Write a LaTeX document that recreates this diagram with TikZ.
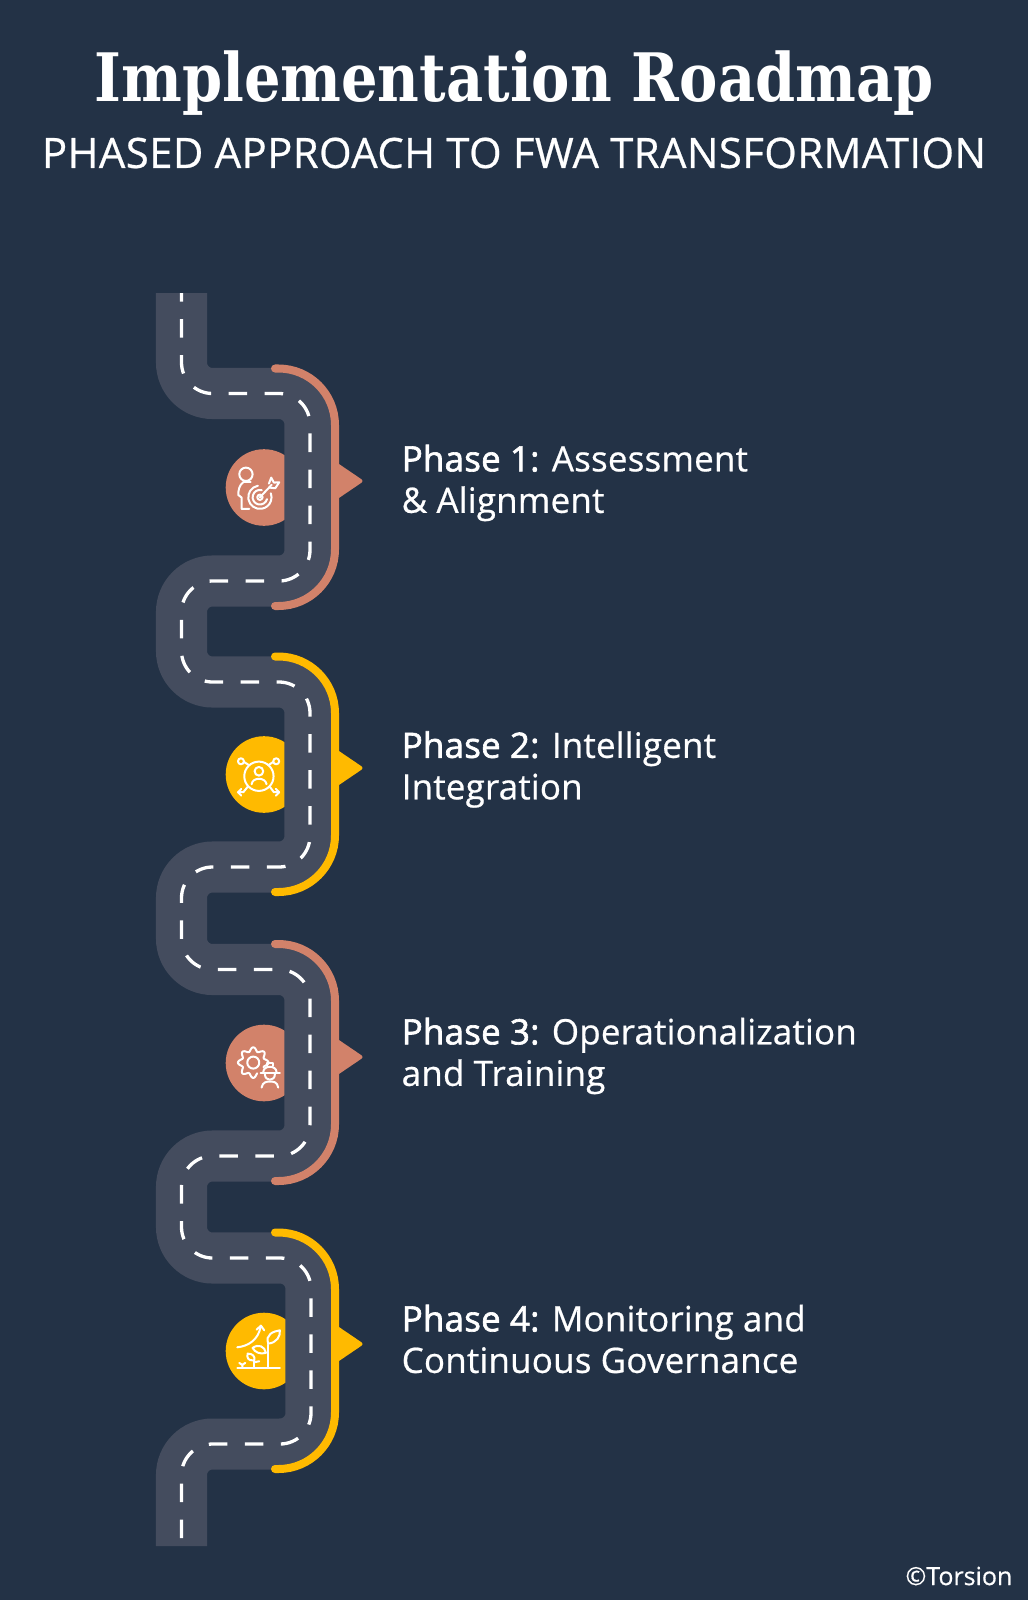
\documentclass[tikz,border=0pt]{standalone}
\usepackage{fontspec}
\setmainfont[FakeBold=0.5]{Open Sans}
\newfontfamily\titlefont[FakeStretch=0.86]{DejaVu Serif Bold}
\newfontfamily\subfont[FakeBold=0.6,LetterSpace=1]{Open Sans}
\newfontfamily\phasefont[FakeBold=1.8,LetterSpace=0.5]{Open Sans}
\newfontfamily\restfont[FakeBold=0.6,LetterSpace=0.5]{Open Sans}
\definecolor{bgblue}{HTML}{233246}
\definecolor{roadgray}{HTML}{444C5E}
\definecolor{salmon}{HTML}{D2826A}
\definecolor{amber}{HTML}{FFBA00}
\tikzset{
	road/.style={draw=roadgray,line width=0.51cm,rounded corners=0.31cm},
	lanes/.style={draw=white,line width=0.033cm,rounded corners=0.31cm,dash pattern=on 0.185cm off 0.175cm,dash phase=0.098cm},
	rim/.style={line width=0.08cm,line cap=round,rounded corners=0.565cm},
	pointer/.style={rounded corners=0.03cm},
	icon/.style={draw=white,line width=0.2mm,line cap=round,line join=round},
	label/.style={text=white,anchor=west,align=left,inner sep=0pt,font=\fontsize{9.95}{11.8}\selectfont\restfont}
}
\begin{document}
\begin{tikzpicture}[x=0.01cm,y=-0.01cm]
	\useasboundingbox (0,0) rectangle (1028,1600);
	\fill [bgblue] (0,0) rectangle (1028,1600);

	\node [text=white,inner sep=0pt,font=\fontsize{19}{22}\selectfont\titlefont] (title) at (514,83) {Implementation Roadmap};
	\node [text=white,inner sep=0pt,font=\fontsize{11.9}{15}\selectfont\subfont] (subtitle) at (514,153) {PHASED APPROACH TO FWA TRANSFORMATION};

	% badges go under the road
	\fill [salmon] (264,487.5) circle [radius=38.3];
	\fill [amber] (264,774.5) circle [radius=38.3];
	\fill [salmon] (264,1063) circle [radius=38.3];
	\fill [amber] (264,1351) circle [radius=38.3];

	\draw [road] (181.5,293) |- (310,393.5) |- (181.5,581) |- (310,682) |- (181.5,867) |- (310,969.5) |- (181.5,1156) |- (311,1258) |- (181.5,1444) -- (181.5,1546);
	\draw [lanes] (181.5,293) |- (310,393.5) |- (181.5,581) |- (310,682) |- (181.5,867) |- (310,969.5) |- (181.5,1156) |- (311,1258) |- (181.5,1444) -- (181.5,1546);

	% edge of each bend with its pointer
	\draw [rim,salmon] (275,368.5) -| (335,606) -- (275,606);
	\fill [pointer,salmon] (336,462) -- (364,481) -- (336,500) -- cycle;
	\draw [rim,amber] (275,656.5) -| (335,892) -- (275,892);
	\fill [pointer,amber] (336,749) -- (364,768) -- (336,787) -- cycle;
	\draw [rim,salmon] (275,944) -| (335,1181) -- (275,1181);
	\fill [pointer,salmon] (336,1038) -- (364,1057) -- (336,1076) -- cycle;
	\draw [rim,amber] (275,1232.5) -| (335,1469) -- (275,1469);
	\fill [pointer,amber] (336,1325) -- (364,1344) -- (336,1363) -- cycle;

	% target icon
	\begin{scope}[shift={(210,440)},x=0.00333cm,y=-0.00333cm,icon]
		\draw (108,103) circle [radius=20];
		\draw (100,127) -- (122,127);
		\draw (100,127) .. controls (88,135) and (85,150) .. (85,165) -- (95,173) -- (95,207) -- (118,207);
		\draw (143.9,137.5) arc [start angle=-100,end angle=-380,radius=35];
		\draw (155.7,150.7) arc [start angle=-75,end angle=-345,radius=22];
		\draw (150,172) circle [radius=8];
		\draw (150,172) -- (185,135);
		\draw (177,131) -- (184,113) -- (192,128) -- (208,127) -- (196,145) -- (178,143);
	\end{scope}
	% person with arrows icon
	\begin{scope}[shift={(210,727)},x=0.00333cm,y=-0.00333cm,icon]
		\draw (147,148) circle [radius=44];
		\draw (147,133) circle [radius=13];
		\draw (125,172) .. controls (128,150) and (166,150) .. (170,172);
		\draw (93,103) circle [radius=9];
		\draw (199,103) circle [radius=9];
		\draw (102,105) -- (118,115);
		\draw (190,105) -- (175,115);
		\draw (113,180) -- (100,196) -- (84,196);
		\draw (94,186) -- (84,196) -- (94,206);
		\draw (180,180) -- (192,196) -- (208,196);
		\draw (198,186) -- (208,196) -- (198,206);
	\end{scope}
	% gear and helmet icon
	\begin{scope}[shift={(210,1015)},x=0.00333cm,y=-0.00333cm,icon]
		\draw plot [smooth,domain=70:385,samples=110] ({130+(40+6*cos(8*\x))*cos(\x)},{143+(40+6*cos(8*\x))*sin(\x)});
		\draw (130,143) circle [radius=18];
		\draw (160,172) .. controls (160,150) and (200,150) .. (200,172);
		\draw (172,153) -- (172,145) -- (188,145) -- (188,153);
		\draw (152,175) -- (210,175);
		\draw (165,178) .. controls (165,200) and (195,200) .. (195,178);
		\draw (155,218) .. controls (158,200) and (172,200) .. (180,200) .. controls (190,200) and (202,200) .. (205,218);
	\end{scope}
	% growth icon
	\begin{scope}[shift={(210,1303)},x=0.00333cm,y=-0.00333cm,icon]
		\draw (82,194) -- (210,194);
		\draw (173,194) -- (173,125);
		\draw (175,122) .. controls (165,95) and (190,85) .. (210,82) .. controls (212,100) and (200,120) .. (175,122);
		\draw (168,150) .. controls (150,155) and (135,148) .. (128,135) .. controls (145,122) and (165,130) .. (168,150);
		\draw (133,194) -- (133,172);
		\draw (133,172) .. controls (115,175) and (110,165) .. (113,152) .. controls (128,152) and (136,160) .. (133,172);
		\draw (133,178) -- (148,175);
		\draw (97,194) -- (97,186) -- (88,180);
		\draw (97,186) -- (106,180);
		\draw (82,133) .. controls (115,130) and (145,110) .. (152,72);
		\draw (140,80) -- (153,68) -- (163,82);
	\end{scope}

	\node [label] (phaseone) at (401,483) {{\phasefont Phase 1:} Assessment\\\& Alignment};
	\node [label] (phasetwo) at (401,769.5) {{\phasefont Phase 2:} Intelligent\\Integration};
	\node [label] (phasethree) at (401,1056) {{\phasefont Phase 3:} Operationalization\\and Training};
	\node [label] (phasefour) at (401,1339) {{\phasefont Phase 4:} Monitoring and\\Continuous Governance};

	\node [text=white,anchor=east,inner sep=0pt,font=\fontsize{7.1}{8}\selectfont] (credit) at (1013,1576) {©Torsion};
\end{tikzpicture}
\end{document}
